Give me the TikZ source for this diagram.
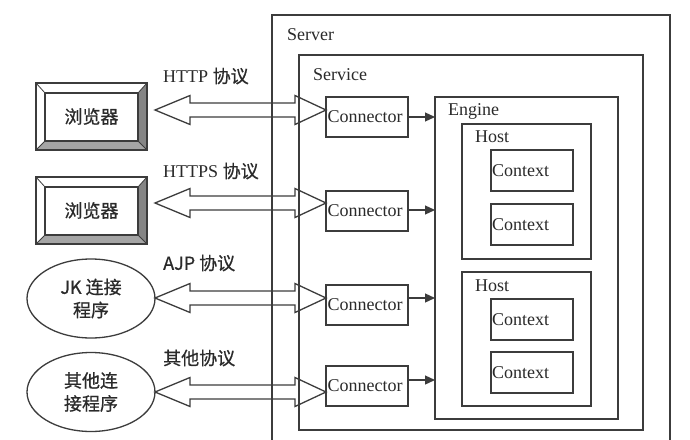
\documentclass[tikz,border=0pt]{standalone}
\usepackage{fontspec}
\setmainfont{Liberation Serif}
\newfontfamily\cjk[FakeBold=0.7]{Noto Sans CJK SC}
\usetikzlibrary{calc,arrows.meta,shapes.geometric}
\definecolor{lc}{HTML}{3C3C3C}
\definecolor{tc}{HTML}{2A2A2A}
\definecolor{bevdark}{HTML}{858585}
\definecolor{bevmid}{HTML}{A5A5A5}
\tikzset{
  ln/.style={draw=lc, line width=1.3pt},
  box/.style={ln, rectangle, inner sep=0pt, outer sep=0pt, anchor=north west},
  txt/.style={text=tc, inner sep=0pt, font=\fontsize{18}{20}\selectfont},
  lbl/.style={txt, anchor=west},
  cbox/.style={box, minimum width=82pt, minimum height=41pt},
  conbox/.style={box, minimum width=82pt, minimum height=40pt},
  browser/.style={ln, rectangle, minimum width=111pt, minimum height=67pt, inner sep=0pt, outer sep=0pt},
  oval/.style={ln, ellipse, minimum width=128pt, minimum height=79pt, inner sep=0pt, outer sep=0pt, align=center, text=tc, font=\fontsize{18}{23}\selectfont\cjk},
  tip/.style={-{Triangle[length=10pt,width=9pt]}, draw=lc, line width=1.2pt, fill=lc}
}
\newcommand\bevel[1]{%
  \fill[bevdark] (#1.north east) -- (#1.south east) -- ($(#1.south east)+(-9,-9)$) -- ($(#1.north east)+(-9,10)$) -- cycle;
  \fill[bevmid] (#1.south west) -- (#1.south east) -- ($(#1.south east)+(-9,-9)$) -- ($(#1.south west)+(9,-9)$) -- cycle;
  \draw[ln] (#1.north west) rectangle (#1.south east);
  \draw[ln] ($(#1.north west)+(9,10)$) rectangle ($(#1.south east)+(-9,-9)$);
  \draw[ln,line width=0.8pt] (#1.north west) -- ($(#1.north west)+(9,10)$)
     (#1.north east) -- ($(#1.north east)+(-9,10)$)
     (#1.south west) -- ($(#1.south west)+(9,-9)$)
     (#1.south east) -- ($(#1.south east)+(-9,-9)$);
}
\newcommand\fatarrow[2]{%
  \draw[ln] (#1) -- ($(#1)+(35,-14.5)$) -- ($(#1)+(35,-7)$) -- ($(#2)+(-31,-7)$) -- ($(#2)+(-31,-14.5)$) -- (#2)
   -- ($(#2)+(-31,14.5)$) -- ($(#2)+(-31,7)$) -- ($(#1)+(35,7)$) -- ($(#1)+(35,14.5)$) -- cycle;
}
\begin{document}
\begin{tikzpicture}[x=1pt,y=-1pt]
\useasboundingbox (0,0) rectangle (690,439);
\fill[white] (0,0) rectangle (690,439);
\clip (0,0) rectangle (690,439);

% containers
\node[box, minimum width=398pt, minimum height=445pt] (server) at (272,15) {};
\node[lbl] at (287,35) {Server};
\node[box, minimum width=344pt, minimum height=375pt] (service) at (299,55) {};
\node[lbl] at (313,75) {Service};
\node[box, minimum width=183pt, minimum height=322pt] (engine) at (435,97) {};
\node[lbl] at (448,111) {Engine};
\node[box, minimum width=129pt, minimum height=135pt] (host1) at (462,124) {};
\node[lbl] at (475,137) {Host};
\node[box, minimum width=129pt, minimum height=134pt] (host2) at (462,272) {};
\node[lbl] at (475,286) {Host};

% contexts
\node[cbox] (ctx1) at (491,150) {};
\node[cbox] (ctx2) at (491,204) {};
\node[cbox] (ctx3) at (491,299) {};
\node[cbox] (ctx4) at (491,352) {};
\foreach \c in {ctx1,ctx2,ctx3,ctx4}{\node[lbl] at ([xshift=1pt]\c.west) {Context};}

% connectors
\node[conbox] (c1) at (326,97) {};
\node[conbox] (c2) at (326,191) {};
\node[conbox] (c3) at (326,285) {};
\node[conbox] (c4) at (326,366) {};
\foreach \c in {c1,c2,c3,c4}{\node[lbl] at ([xshift=1.5pt]\c.west) {Connector};}

% connector -> engine arrows
\coordinate (k1) at (c1.east);
\coordinate (k2) at ([yshift=1pt]c2.east);
\coordinate (k3) at ([yshift=7pt]c3.east);
\coordinate (k4) at ([yshift=6pt]c4.east);
\foreach \k in {k1,k2,k3,k4}{\draw[tip] (\k) -- (\k -| engine.west);}

% clients
\node[browser] (b1) at (91.5,116.5) {};
\bevel{b1}
\node[txt, font=\fontsize{18}{20}\selectfont\cjk] at (b1) {浏览器};
\node[browser] (b2) at (91.5,210.5) {};
\bevel{b2}
\node[txt, font=\fontsize{18}{20}\selectfont\cjk] at (b2) {浏览器};
\node[oval] (e1) at (91,298.5) {JK 连接\\程序};
\node[oval] (e2) at (91,392) {其他连\\接程序};

% protocol labels
\node[lbl] at (163,76) {HTTP {\cjk 协议}};
\node[lbl] at (163,171) {HTTPS {\cjk 协议}};
\node[lbl, font=\fontsize{18}{20}\selectfont\cjk] at (163,263) {AJP 协议};
\node[lbl, font=\fontsize{18}{20}\selectfont\cjk] at (163,358) {其他协议};

% fat double arrows
\coordinate (p1l) at (155,110);  \coordinate (p1r) at (p1l -| c1.west);
\coordinate (p2l) at (155,203);  \coordinate (p2r) at (p2l -| c2.west);
\coordinate (p3l) at (155,298);  \coordinate (p3r) at (p3l -| c3.west);
\coordinate (p4l) at (155,392);  \coordinate (p4r) at (p4l -| c4.west);
\fatarrow{p1l}{p1r}
\fatarrow{p2l}{p2r}
\fatarrow{p3l}{p3r}
\fatarrow{p4l}{p4r}
\end{tikzpicture}
\end{document}
